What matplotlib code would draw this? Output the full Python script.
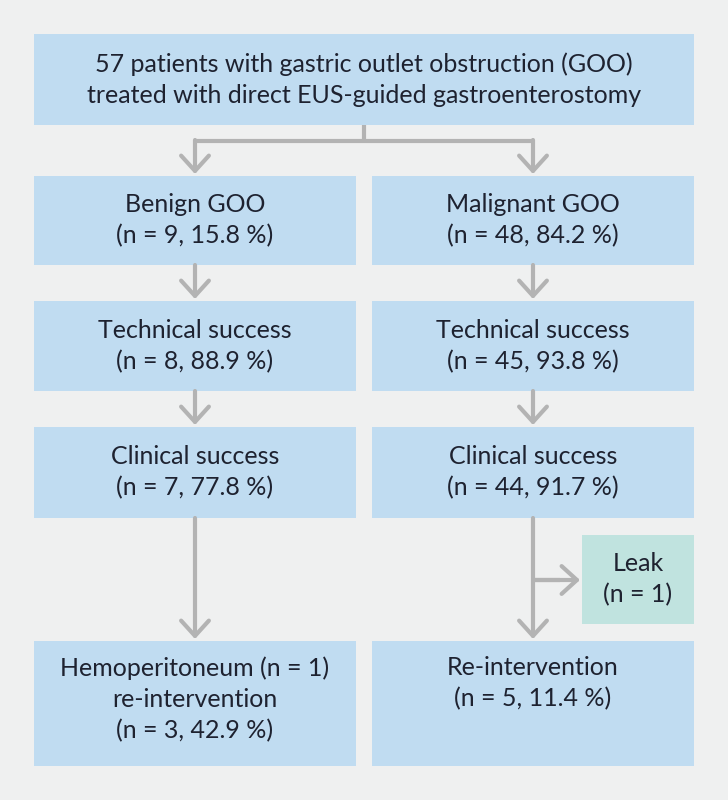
import matplotlib.pyplot as plt
from matplotlib.patches import Rectangle

# box texts
top_text = "57 patients with gastric outlet obstruction (GOO)\ntreated with direct EUS-guided gastroenterostomy"
benign_texts = ["Benign GOO\n(n = 9, 15.8 %)",
                "Technical success\n(n = 8, 88.9 %)",
                "Clinical success\n(n = 7, 77.8 %)",
                "Hemoperitoneum (n = 1)\nre-intervention\n(n = 3, 42.9 %)"]
malignant_texts = ["Malignant GOO\n(n = 48, 84.2 %)",
                   "Technical success\n(n = 45, 93.8 %)",
                   "Clinical success\n(n = 44, 91.7 %)",
                   "Re-intervention\n(n = 5, 11.4 %)"]
leak_text = "Leak\n(n = 1)"

BG = "#eff0f0"
BOX = "#c0dcf1"
LEAK = "#c0e3df"
ARROW = "#b3b3b3"
TXT = "#1e2230"
FONT = ['Lato', 'DejaVu Sans']

fig = plt.figure(figsize=(7.28, 8), dpi=100)
fig.patch.set_facecolor(BG)
ax = fig.add_axes([0, 0, 1, 1])
ax.set_xlim(0, 728)
ax.set_ylim(800, 0)
ax.axis('off')


def box(x0, y0, x1, y1, text, color=BOX, top=None):
    ax.add_patch(Rectangle((x0, y0), x1 - x0, y1 - y0, facecolor=color, edgecolor='none'))
    if top is None:
        ax.text((x0 + x1) / 2, (y0 + y1) / 2, text, ha='center', va='center',
                fontsize=18, color=TXT, family=FONT, linespacing=1.42)
    else:
        ax.text((x0 + x1) / 2, top, text, ha='center', va='top',
                fontsize=18, color=TXT, family=FONT, linespacing=1.42)


def arrow(x0, y0, x1, y1):
    ax.annotate("", xy=(x1, y1), xytext=(x0, y0),
                arrowprops=dict(arrowstyle="->,head_length=0.55,head_width=0.5",
                                color=ARROW, lw=3, mutation_scale=20,
                                shrinkA=0, shrinkB=0))


def line(xs, ys):
    ax.plot(xs, ys, color=ARROW, lw=3, solid_capstyle='butt')


# layout
lx0, lx1 = 34, 356
rx0, rx1 = 372, 694
lc, rc = 195, 533
rows = [(176, 265), (301, 391), (427, 518), (641, 766)]

box(34, 34, 694, 125, top_text)

line([364, 364], [125, 141])
line([lc, rc], [141, 141])
arrow(lc, 140, lc, 174)
arrow(rc, 140, rc, 174)

for i, (y0, y1) in enumerate(rows):
    if i < 3:
        box(lx0, y0, lx1, y1, benign_texts[i])
        box(rx0, y0, rx1, y1, malignant_texts[i])
    else:
        box(lx0, y0, lx1, y1, benign_texts[i], top=656)
        box(rx0, y0, rx1, y1, malignant_texts[i], top=656)
    if i > 0:
        prev = rows[i - 1][1]
        arrow(lc, prev, lc, y0 - 2)
        arrow(rc, prev, rc, y0 - 2)

box(582, 535, 694, 624, leak_text, color=LEAK)
line([rc, 560], [580, 580])
arrow(rc, 580, 580, 580)

fig.savefig("out.png", dpi=100, facecolor=BG)
